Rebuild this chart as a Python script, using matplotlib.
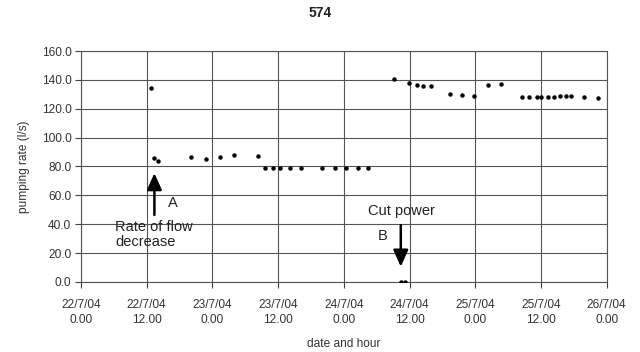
import numpy as np
import matplotlib.pyplot as plt

# hours after 22/7/04 0.00 and pumping rate (l/s)
hours = [12.8, 13.3, 14.0, 20.0, 22.9, 25.4, 28.0, 32.3,
         33.6, 35.1, 36.4, 38.2, 40.1, 44.0, 46.4, 48.4, 50.5, 52.5,
         57.2, 58.4, 59.1, 59.9, 61.3, 62.5, 64.0, 67.3, 69.5, 71.8, 74.4, 76.7,
         80.5, 81.8, 83.2, 84.0, 85.2, 86.4, 87.5, 88.6, 89.5, 91.8, 94.4]
rate = [134.7, 86.0, 84.0, 86.5, 85.3, 86.5, 87.7, 87.2,
        78.7, 78.7, 78.7, 78.7, 78.7, 78.7, 78.7, 78.7, 78.7, 78.7,
        140.3, 0.0, 0.0, 137.9, 136.8, 135.9, 135.9, 129.9, 129.4, 128.9, 136.8, 137.0,
        128.3, 128.3, 128.3, 128.3, 128.5, 128.5, 128.7, 128.9, 128.6, 128.0, 127.6]

tick_hours = [0, 12, 24, 36, 48, 60, 72, 84, 96]
tick_labels = ["22/7/04\n0.00", "22/7/04\n12.00", "23/7/04\n0.00", "23/7/04\n12.00",
               "24/7/04\n0.00", "24/7/04\n12.00", "25/7/04\n0.00", "25/7/04\n12.00",
               "26/7/04\n0.00"]

plt.rcParams['font.family'] = ['Liberation Sans', 'DejaVu Sans']
fs = 8.6
afs = 10.5

fig = plt.figure(figsize=(6.4, 3.52), dpi=100)
ax = fig.add_axes([0.1266, 0.199, 0.9479 - 0.1266, 0.855 - 0.199])

ax.plot(hours, rate, 'o', color='black', markersize=2.2, zorder=3)

ax.set_xlim(0, 96)
ax.set_ylim(0, 160)
ax.set_xticks(tick_hours)
ax.set_xticklabels(tick_labels, fontsize=fs, color='#333333', linespacing=1.35)
ax.set_yticks(np.arange(0, 161, 20))
ax.set_yticklabels(["%.1f" % v for v in np.arange(0, 161, 20)], fontsize=fs, color='#333333')
ax.tick_params(axis='both', length=4, width=0.8, color='#444444', pad=3)
ax.tick_params(axis='x', pad=8)
ax.grid(True, color='#555555', linewidth=0.8)
for s in ax.spines.values():
    s.set_color('#555555')
    s.set_linewidth(0.8)
ax.set_axisbelow(True)

ax.set_xlabel("date and hour", fontsize=fs, color='#333333', labelpad=9)
ax.set_ylabel("pumping rate (l/s)", fontsize=fs, color='#333333', labelpad=8)
fig.text(0.5, 0.962, "574", ha='center', va='center', fontsize=10, fontweight='bold',
         color='#222222')

# A: drop in flow rate
ax.annotate("", xy=(13.4, 75.4), xytext=(13.4, 46.4),
            arrowprops=dict(arrowstyle='-|>,head_width=0.45,head_length=1.0',
                            color='black', lw=1.8, shrinkA=0, shrinkB=0))
ax.text(15.8, 54.7, "A", fontsize=afs, va='center', ha='left', color='#222222')
ax.text(6.2, 33, "Rate of flow\ndecrease", fontsize=afs, va='center', ha='left',
        linespacing=1.05, color='#222222')

# B: power cut
ax.annotate("", xy=(58.4, 10.6), xytext=(58.4, 39.4),
            arrowprops=dict(arrowstyle='-|>,head_width=0.45,head_length=1.0',
                            color='black', lw=1.8, shrinkA=0, shrinkB=0))
ax.text(56.0, 31.8, "B", fontsize=afs, va='center', ha='right', color='#222222')
ax.text(52.4, 49, "Cut power", fontsize=afs, va='center', ha='left', color='#222222')

fig.savefig("out.png", dpi=100)
